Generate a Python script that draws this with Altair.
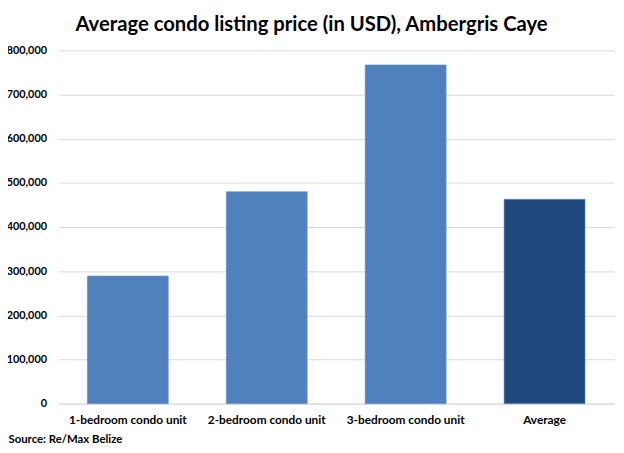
import pandas as pd
import altair as alt

FONT = "Lato"

categories = ["1-bedroom condo unit", "2-bedroom condo unit", "3-bedroom condo unit", "Average"]
prices = [289000, 480000, 767000, 463000]
kinds = ["unit", "unit", "unit", "avg"]

df = pd.DataFrame({"category": categories, "price": prices, "kind": kinds})

y_ticks = [0, 100000, 200000, 300000, 400000, 500000, 600000, 700000, 800000]

bars = alt.Chart(df).mark_bar(stroke="#6f97c9", strokeWidth=0.6).encode(
    x=alt.X("category:N", sort=categories,
            scale=alt.Scale(paddingInner=0.417, paddingOuter=0.2085),
            axis=alt.Axis(title="Source: Re/Max Belize", labelAngle=0, ticks=False,
                          domainColor="#d9d9d9", labelPadding=11,
                          labelFont=FONT, labelFontSize=12, labelFontWeight="bold",
                          labelColor="black",
                          titleFont=FONT, titleFontSize=11.5, titleFontWeight="bold",
                          titleColor="black", titleAnchor="start", titleAlign="left",
                          titleX=-51, titleY=36, titleBaseline="middle")),
    y=alt.Y("price:Q", scale=alt.Scale(domain=[0, 800000]),
            axis=alt.Axis(title=None, values=y_ticks, format=",.0f", ticks=False, domain=False,
                          gridColor="#d9d9d9", labelPadding=12,
                          labelFont=FONT, labelFontSize=11, labelFontWeight="bold",
                          labelColor="black")),
    color=alt.Color("kind:N", scale=alt.Scale(domain=["unit", "avg"],
                                              range=["#4f81bd", "#1f497d"]),
                    legend=None),
).properties(
    width=563,
    height=358,
    autosize=alt.AutoSizeParams(type="none"),
    padding={"left": 51, "top": 40, "right": 2, "bottom": 40},
    title=alt.TitleParams("Average condo listing price (in USD), Ambergris Caye",
                          font=FONT, fontSize=20.5, fontWeight="bold", color="black",
                          anchor="middle", dx=-25, offset=9),
).configure_view(stroke=None)

bars.save("out.html", embed_options={"renderer": "svg", "actions": False})
